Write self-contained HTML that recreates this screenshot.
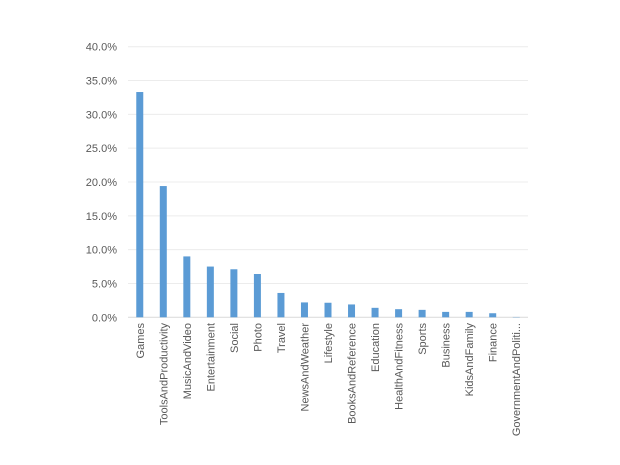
<!DOCTYPE html>
<html><head><meta charset="utf-8"><style>
body{margin:0;background:#fff;}
svg{display:block;font-family:"Liberation Sans",sans-serif;}
</style></head><body>
<svg id="chart" width="620" height="465"></svg>
<script>
const categories=["Games","ToolsAndProductivity","MusicAndVideo","Entertainment","Social","Photo","Travel","NewsAndWeather","Lifestyle","BooksAndReference","Education","HealthAndFitness","Sports","Business","KidsAndFamily","Finance","GovernmentAndPoliti..."];
const values=[33.3,19.4,9.0,7.5,7.1,6.4,3.6,2.2,2.15,1.9,1.4,1.2,1.1,0.8,0.8,0.6,0.05];
const ticks=[0,5,10,15,20,25,30,35,40];
const tickLabels=["0.0%","5.0%","10.0%","15.0%","20.0%","25.0%","30.0%","35.0%","40.0%"];
const NS="http://www.w3.org/2000/svg";
const svg=document.getElementById('chart');
const x0=128,x1=528,y0=317.3,y1=46.7,ymax=40;
const y=v=>y0-(v/ymax)*(y0-y1);
const band=(x1-x0)/categories.length;
const xc=i=>x0+band*(i+0.5);
function mk(t,a){const e=document.createElementNS(NS,t);for(const k in a)e.setAttribute(k,a[k]);svg.appendChild(e);return e;}
ticks.forEach((t,i)=>{
  const g=mk('line',{x1:x0,x2:x1,y1:y(t),y2:y(t),stroke:t===0?'#d9d9d9':'#ececec','stroke-width':1});
  
  
  const l=mk('text',{x:117,y:y(t)+4,'text-anchor':'end','font-size':'11',fill:'#595959'});
  l.textContent=tickLabels[i];
  
  
});
values.forEach((v,i)=>{
  const r=mk('rect',{x:xc(i)-3.5,y:y(v),width:7,height:y0-y(v),fill:'#5b9bd5'});
  
  
  const t=mk('text',{x:0,y:0,'text-anchor':'end','font-size':'11',fill:'#595959',transform:`translate(${xc(i)+4},323) rotate(-90)`});
  t.textContent=categories[i];
  
  
});
</script>
</body></html>
